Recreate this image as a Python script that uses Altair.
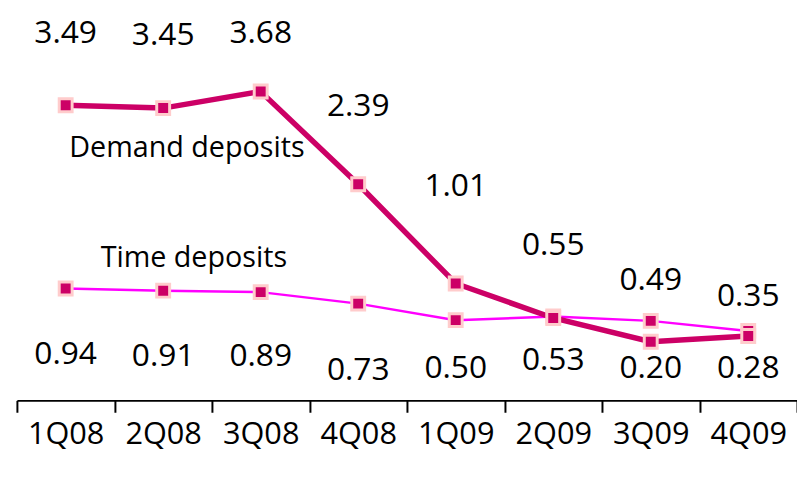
import altair as alt
import pandas as pd

quarters = ["1Q08", "2Q08", "3Q08", "4Q08", "1Q09", "2Q09", "3Q09", "4Q09"]
demand = [3.49, 3.45, 3.68, 2.39, 1.01, 0.53, 0.20, 0.28]
time_dep = [0.94, 0.91, 0.89, 0.73, 0.50, 0.55, 0.49, 0.35]
# anchor (in value units) for each value label
demand_label_at = [4.50, 4.46, 4.50, 3.48, 2.37, -0.06, -0.17, -0.17]
time_label_at = [0.03, 0.00, 0.00, -0.20, -0.17, 1.55, 1.06, 0.83]

series_names = ["Demand deposits", "Time deposits"]

FONT = "Open Sans"
DEMAND_C = "#CC0066"
TIME_C = "#FF00FF"
EDGE_C = "#FFCCCC"

df_d = pd.DataFrame({"q": quarters, "v": demand, "lab": [f"{v:.2f}" for v in demand], "ly": demand_label_at})
df_t = pd.DataFrame({"q": quarters, "v": time_dep, "lab": [f"{v:.2f}" for v in time_dep], "ly": time_label_at})

xenc = alt.X("q:N", sort=quarters, title=None,
             scale=alt.Scale(paddingInner=0, paddingOuter=0),
             axis=alt.Axis(labelAngle=0, labelFont=FONT, labelFontSize=31, labelColor="black",
                           domainColor="black", domainWidth=2, tickColor="black", tickWidth=2,
                           tickSize=12, tickBand="extent", labelPadding=8, grid=False))
yscale = alt.Scale(domain=[-0.616, 4.81], nice=False, zero=False)
yenc = alt.Y("v:Q", scale=yscale, axis=None)

def series(df, color, width):
    base = alt.Chart(df)
    line = base.mark_line(color=color, strokeWidth=width).encode(x=xenc, y=yenc)
    pts = base.mark_point(shape="square", filled=True, size=170, color=DEMAND_C,
                          stroke=EDGE_C, strokeWidth=3, opacity=1).encode(x=xenc, y=yenc)
    labels = base.mark_text(font=FONT, fontSize=32, color="black", baseline="middle").encode(
        x=xenc, y=alt.Y("ly:Q", scale=yscale, axis=None), text="lab:N")
    return line + pts + labels

legend_df = pd.DataFrame({"q": ["2Q08", "2Q08"], "ly": [2.90, 1.37], "name": series_names})
leg_d = alt.Chart(legend_df.iloc[[0]]).mark_text(font=FONT, fontSize=29, color="black", dx=24, baseline="middle").encode(
    x=alt.X("q:N", sort=quarters), y=alt.Y("ly:Q", scale=yscale), text="name:N")
leg_t = alt.Chart(legend_df.iloc[[1]]).mark_text(font=FONT, fontSize=29, color="black", dx=31, baseline="middle").encode(
    x=alt.X("q:N", sort=quarters), y=alt.Y("ly:Q", scale=yscale), text="name:N")

chart = alt.layer(
    series(df_t, TIME_C, 2.5),
    series(df_d, DEMAND_C, 5.5),
    leg_d, leg_t,
).properties(
    width=788, height=394,
    padding={"left": 9, "top": 0, "right": 0, "bottom": 70},
    autosize=alt.AutoSizeParams(type="none"),
    background="white",
).configure_view(stroke=None)

chart.save("out.html", embed_options={"renderer": "svg", "actions": False})
